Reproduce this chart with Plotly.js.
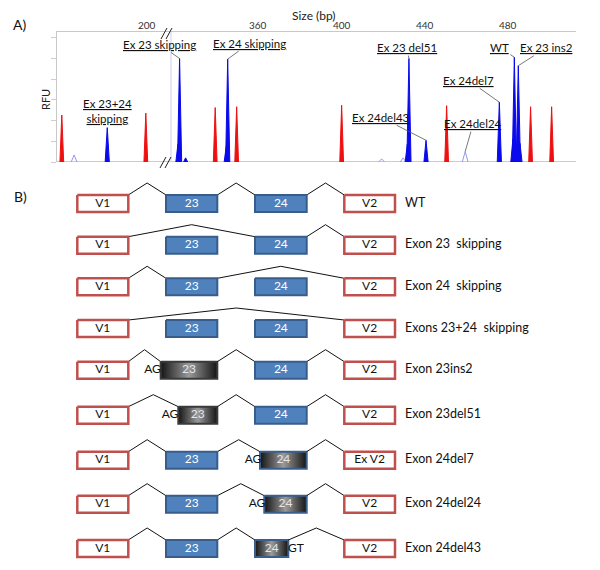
<!DOCTYPE html>
<html>
<head>
<meta charset="utf-8">
<script src="https://cdn.plot.ly/plotly-3.0.1.min.js"></script>
<style>
body { margin: 0; background: #fff; }
#chart { width: 600px; height: 570px; }
</style>
</head>
<body>
<div id="chart"></div>
<script>
// ---- panel A: fragment analysis peaks (size in bp, height in RFU grid units)
const redSizes = [159.1, 199.4, 339.3, 349.6, 400.0, 450.4, 490.7, 500.8];
const redHeights = [2.27, 2.36, 2.63, 2.67, 2.74, 2.72, 2.67, 2.67];
const blueSizes = [180.9, 321.4, 322.2, 325.1, 344.6, 345.3, 431.5, 432.3, 440.5, 475.7, 482.2, 482.9, 484.8, 485.6];
const blueHeights = [1.66, 0.85, 5.0, 0.2, 0.75, 4.97, 0.85, 5.0, 1.05, 2.89, 1.1, 5.06, 4.65, 0.9];
const faintSizes = [165.0, 419.2, 429.5, 459.3];
const faintHeights = [0.34, 0.15, 0.2, 0.5];

const leftTicks = [200];
const rightTicks = [360, 400, 440, 480];

const peakLabels = ['Ex 23 skipping', 'Ex 24 skipping', 'Ex 23 del51', 'WT', 'Ex 23 ins2', 'Ex 24del7', 'Ex 24del43', 'Ex 24del24'];
const labelSizes = [322.2, 345.3, 432.3, 482.9, 484.8, 475.7, 440.5, 459.3];
const labelHeights = [5.0, 4.97, 5.0, 5.06, 4.65, 2.89, 1.05, 0.5];

// ---- panel B: splicing diagrams
const rowLabels = ['WT', 'Exon 23\u00a0 skipping', 'Exon 24\u00a0 skipping', 'Exons 23+24\u00a0 skipping',
    'Exon 23ins2', 'Exon 23del51', 'Exon 24del7', 'Exon 24del24', 'Exon 24del43'];
const v1Labels = ['V1', 'V1', 'V1', 'V1', 'V1', 'V1', 'V1', 'V1', 'V1'];
const v2Labels = ['V2', 'V2', 'V2', 'V2', 'V2', 'V2', 'Ex V2', 'V2', 'V2'];
const exon23State = ['normal', 'skipped', 'normal', 'skipped', 'ins2', 'del51', 'normal', 'normal', 'normal'];
const exon24State = ['normal', 'normal', 'skipped', 'skipped', 'normal', 'normal', 'del7', 'del24', 'del43'];

const W = 600, H = 570;
const FONT = 'Lato, "Open Sans", sans-serif';
const RED = 'rgb(238,16,16)';
const BLUE = 'rgb(10,10,235)';

// broken size axis: left piece and right piece
const leftRange = [156.8, 211.0];
const rightRange = [317.6, 512.5];
const breakAt = 250;

function peakTrace(size, height, halfWidth, color, filled) {
    return {
        x: [size - halfWidth, size, size + halfWidth],
        y: [0, height, 0],
        xaxis: size < breakAt ? 'x' : 'x2',
        yaxis: 'y',
        mode: 'lines',
        fill: filled ? 'toself' : 'none',
        fillcolor: color,
        line: {color: color, width: 1},
        hoverinfo: 'skip',
        showlegend: false
    };
}

let traces = [];

// baseline on both pieces
traces.push({x: leftRange, y: [0, 0], xaxis: 'x', yaxis: 'y', mode: 'lines',
    line: {color: 'rgb(140,140,245)', width: 1}, hoverinfo: 'skip', showlegend: false});
traces.push({x: rightRange, y: [0, 0], xaxis: 'x2', yaxis: 'y', mode: 'lines',
    line: {color: 'rgb(140,140,245)', width: 1}, hoverinfo: 'skip', showlegend: false});

faintSizes.forEach((s, i) => traces.push(peakTrace(s, faintHeights[i], 1.4, 'rgb(150,150,240)', false)));
redSizes.forEach((s, i) => traces.push(peakTrace(s, redHeights[i], 0.9, RED, true)));
blueSizes.forEach((s, i) => traces.push(peakTrace(s, blueHeights[i], 1.0, BLUE, true)));

let annotations = [];
const labelOffsets = [[-20, -14], [22, -16], [-2, -11], [-15, -10], [28, -18], [-31, -22], [-45, -23], [8, -28]];
peakLabels.forEach((t, i) => {
    annotations.push({
        text: '<u>' + t + '</u>',
        x: labelSizes[i], y: labelHeights[i],
        xref: labelSizes[i] < breakAt ? 'x' : 'x2', yref: 'y',
        ax: labelOffsets[i][0], ay: labelOffsets[i][1],
        showarrow: true, arrowhead: 0, arrowwidth: 0.8, arrowcolor: '#555', standoff: 0,
        font: {family: FONT, size: 11.5, color: '#111'}
    });
});
annotations.push({
    text: '<u>Ex 23+24</u><br><u>skipping</u>',
    x: blueSizes[0], y: blueHeights[0], xref: 'x', yref: 'y',
    ax: 0, ay: -17, showarrow: true, arrowcolor: 'rgba(0,0,0,0)',
    font: {family: FONT, size: 11.5, color: '#111'}
});

// size tick labels sit right on the top line
leftTicks.forEach(v => annotations.push({text: String(v), x: v, xref: 'x', y: 1 - 32 / H, yref: 'paper',
    xanchor: 'center', yanchor: 'bottom', showarrow: false, borderpad: 0,
    font: {family: FONT, size: 10, color: '#333'}}));
rightTicks.forEach(v => annotations.push({text: String(v), x: v, xref: 'x2', y: 1 - 32 / H, yref: 'paper',
    xanchor: 'center', yanchor: 'bottom', showarrow: false, borderpad: 0,
    font: {family: FONT, size: 10, color: '#333'}}));

const plain = {xref: 'paper', yref: 'paper', xanchor: 'center', yanchor: 'middle', showarrow: false};
annotations.push(Object.assign({text: 'Size (bp)', x: 314 / W, y: 1 - 16 / H,
    font: {family: FONT, size: 12, color: '#222'}}, plain));
annotations.push(Object.assign({text: 'RFU', x: 45 / W, y: 1 - 100 / H, textangle: -90,
    font: {family: FONT, size: 11, color: '#222'}}, plain));
annotations.push(Object.assign({text: 'A)', x: 19 / W, y: 1 - 24 / H,
    font: {family: FONT, size: 14, color: '#111'}}, plain));
annotations.push(Object.assign({text: 'B)', x: 20 / W, y: 1 - 197 / H,
    font: {family: FONT, size: 14, color: '#111'}}, plain));

// ---- panel B geometry (diagram coordinates = pixels)
const rowCenters = [203.5, 245.2, 286.8, 328.5, 370.2, 415.2, 460.2, 504.2, 548.5];
const boxHalf = 8.5;
const slot = {v1: [77.3, 128.3], e23: [166, 217.3], e24: [255, 306.7], v2: [344.3, 395]};
const variant = {
    ins2: {span: [160.7, 217.3], motif: 'AG', motifX: 152.5},
    del51: {span: [178.3, 217.3], motif: 'AG', motifX: 170},
    del7: {span: [260, 306.7], motif: 'AG', motifX: 253},
    del24: {span: [264.3, 306.7], motif: 'AG', motifX: 257},
    del43: {span: [255, 288.3], motif: 'GT', motifX: 296}
};

let redX = [], redY = [], blueX = [], blueY = [], intronX = [], intronY = [];
let txtX = [], txtY = [], txt = [], txtColor = [];
let motifX = [], motifY = [], motifTxt = [];

function rect(xs, ys, span, yc) {
    const t = yc - boxHalf, b = yc + boxHalf;
    xs.push(span[0], span[1], span[1], span[0], span[0], null);
    ys.push(t, t, b, b, t, null);
}

rowLabels.forEach((lab, r) => {
    const yc = rowCenters[r];
    rect(redX, redY, slot.v1, yc);
    rect(redX, redY, slot.v2, yc);
    txtX.push((slot.v1[0] + slot.v1[1]) / 2, (slot.v2[0] + slot.v2[1]) / 2);
    txtY.push(yc, yc);
    txt.push(v1Labels[r], v2Labels[r]);
    txtColor.push('#111', '#111');

    let chain = [slot.v1];
    [['e23', '23', exon23State[r]], ['e24', '24', exon24State[r]]].forEach(([key, name, state]) => {
        let span = slot[key];
        if (variant[state]) {
            const v = variant[state];
            span = v.span;
            traces.push({
                x: [span[0], span[1], span[1], span[0], span[0]],
                y: [yc - boxHalf, yc - boxHalf, yc + boxHalf, yc + boxHalf, yc - boxHalf],
                xaxis: 'x3', yaxis: 'y3', mode: 'lines', fill: 'toself',
                fillgradient: {type: 'horizontal', colorscale: [[0, '#141414'], [0.5, '#9a9a9a'], [1, '#141414']]},
                line: {color: key === 'e23' ? '#3a3a3a' : '#3b5f8c', width: 2},
                hoverinfo: 'skip', showlegend: false
            });
            motifX.push(v.motifX); motifY.push(yc); motifTxt.push(v.motif);
            txtColor.push('#e6e6e6');
        } else {
            rect(blueX, blueY, span, yc);
            txtColor.push('#fff');
        }
        txtX.push((span[0] + span[1]) / 2); txtY.push(yc); txt.push(name);
        if (state !== 'skipped') chain.push(span);
    });
    chain.push(slot.v2);

    for (let k = 0; k < chain.length - 1; k++) {
        const a = chain[k][1], b = chain[k + 1][0], top = yc - boxHalf;
        intronX.push(a, (a + b) / 2, b, null);
        intronY.push(top, top - 12, top, null);
    }
});

traces.push({x: intronX, y: intronY, xaxis: 'x3', yaxis: 'y3', mode: 'lines',
    line: {color: '#111', width: 1}, hoverinfo: 'skip', showlegend: false});
traces.push({x: redX, y: redY, xaxis: 'x3', yaxis: 'y3', mode: 'lines', fill: 'toself', fillcolor: '#fff',
    line: {color: 'rgb(192,80,77)', width: 2.5}, hoverinfo: 'skip', showlegend: false});
traces.push({x: blueX, y: blueY, xaxis: 'x3', yaxis: 'y3', mode: 'lines', fill: 'toself', fillcolor: 'rgb(79,129,189)',
    line: {color: 'rgb(56,93,138)', width: 2}, hoverinfo: 'skip', showlegend: false});
traces.push({x: txtX, y: txtY, xaxis: 'x3', yaxis: 'y3', mode: 'text', text: txt,
    textfont: {family: FONT, size: 12, color: txtColor}, hoverinfo: 'skip', showlegend: false});
traces.push({x: motifX, y: motifY, xaxis: 'x3', yaxis: 'y3', mode: 'text', text: motifTxt,
    textfont: {family: FONT, size: 12, color: '#111'}, hoverinfo: 'skip', showlegend: false});
traces.push({x: rowLabels.map(() => 405), y: rowCenters, xaxis: 'x3', yaxis: 'y3', mode: 'text',
    text: rowLabels, textposition: 'middle right',
    textfont: {family: FONT, size: 12.5, color: '#111'}, hoverinfo: 'skip', showlegend: false});

const topAxis = {
    side: 'top', anchor: 'y', showline: true, linecolor: '#c8c8c8', linewidth: 1,
    ticks: '', showgrid: false, zeroline: false, showticklabels: false, fixedrange: true
};

const layout = {
    width: W, height: H,
    margin: {l: 0, r: 0, t: 0, b: 0},
    paper_bgcolor: '#fff', plot_bgcolor: 'rgba(0,0,0,0)',
    showlegend: false,
    xaxis: Object.assign({}, topAxis, {domain: [57 / W, 170 / W], range: leftRange}),
    xaxis2: Object.assign({}, topAxis, {domain: [170 / W, 576 / W], range: rightRange}),
    yaxis: {
        domain: [1 - 162 / H, 1 - 32 / H], range: [0, 6.28], anchor: 'x',
        showline: true, linecolor: '#c8c8c8', linewidth: 1, ticks: 'outside', ticklen: 5,
        tickcolor: '#cfcfcf', dtick: 1, showticklabels: false, showgrid: false, zeroline: false
    },
    xaxis3: {domain: [0, 1], range: [0, W], anchor: 'y3', visible: false},
    yaxis3: {domain: [0, 1 - 180 / H], range: [H, 180], anchor: 'x3', visible: false},
    annotations: annotations,
    shapes: [
        // faint line at the axis break
        {type: 'line', xref: 'paper', yref: 'paper', x0: 171 / W, x1: 171 / W, y0: 1 - 162 / H, y1: 1 - 32 / H,
            line: {color: 'rgb(205,205,240)', width: 1}},
        // break marks
        {type: 'line', xref: 'paper', yref: 'paper', x0: 161 / W, x1: 167 / W, y0: 1 - 39 / H, y1: 1 - 28 / H, line: {color: '#222', width: 1}},
        {type: 'line', xref: 'paper', yref: 'paper', x0: 166 / W, x1: 172 / W, y0: 1 - 39 / H, y1: 1 - 28 / H, line: {color: '#222', width: 1}},
        {type: 'line', xref: 'paper', yref: 'paper', x0: 160 / W, x1: 166 / W, y0: 1 - 168 / H, y1: 1 - 157 / H, line: {color: '#222', width: 1}},
        {type: 'line', xref: 'paper', yref: 'paper', x0: 165 / W, x1: 171 / W, y0: 1 - 168 / H, y1: 1 - 157 / H, line: {color: '#222', width: 1}}
    ]
};

Plotly.newPlot('chart', traces, layout, {displayModeBar: false, staticPlot: true});
</script>
</body>
</html>
